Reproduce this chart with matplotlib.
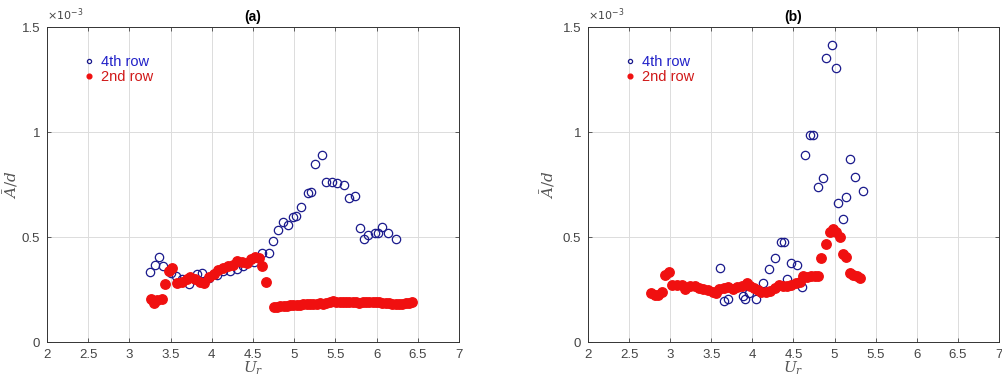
import numpy as np
import matplotlib
matplotlib.use("Agg")
import matplotlib.pyplot as plt

plt.rcParams['font.family'] = ['Liberation Sans', 'DejaVu Sans']
plt.rcParams['mathtext.fontset'] = 'dejavuserif'

# values in units of 1e-3
a_4th_x = [3.25, 3.31, 3.36, 3.41, 3.50, 3.56, 3.64, 3.72, 3.82, 3.88, 3.96, 4.06, 4.14, 4.22,
           4.30, 4.38, 4.51, 4.61, 4.69, 4.74, 4.80, 4.86, 4.92, 4.99, 5.02, 5.08, 5.17, 5.20,
           5.25, 5.34, 5.39, 5.46, 5.52, 5.60, 5.66, 5.74, 5.80, 5.85, 5.89, 5.98, 6.02, 6.07,
           6.14, 6.23]
a_4th_y = [0.331, 0.367, 0.404, 0.363, 0.328, 0.312, 0.299, 0.277, 0.325, 0.328, 0.304, 0.320,
           0.336, 0.336, 0.347, 0.360, 0.383, 0.423, 0.426, 0.483, 0.534, 0.573, 0.558, 0.594,
           0.600, 0.641, 0.711, 0.713, 0.847, 0.889, 0.763, 0.763, 0.756, 0.748, 0.684, 0.695,
           0.542, 0.489, 0.510, 0.518, 0.521, 0.550, 0.518, 0.489]

a_2nd_x = [3.26, 3.30, 3.34, 3.39, 3.43, 3.48, 3.52, 3.58, 3.64, 3.70, 3.74, 3.80, 3.86, 3.91,
           3.96, 4.02, 4.08, 4.14, 4.20, 4.26, 4.31, 4.36, 4.43, 4.47, 4.52, 4.57, 4.61, 4.66,
           4.75, 4.79, 4.83, 4.87, 4.91, 4.95, 4.99, 5.03, 5.07, 5.11, 5.15, 5.19, 5.23, 5.27,
           5.31, 5.35, 5.39, 5.43, 5.47, 5.51, 5.55, 5.59, 5.63, 5.67, 5.71, 5.75, 5.79, 5.83,
           5.87, 5.91, 5.95, 5.99, 6.03, 6.07, 6.11, 6.15, 6.19, 6.23, 6.27, 6.31, 6.35, 6.39,
           6.43]
a_2nd_y = [0.204, 0.185, 0.201, 0.204, 0.277, 0.336, 0.352, 0.280, 0.288, 0.299, 0.309, 0.299,
           0.284, 0.280, 0.309, 0.325, 0.344, 0.352, 0.360, 0.367, 0.388, 0.383, 0.375, 0.394,
           0.404, 0.399, 0.363, 0.288,
           0.165, 0.167, 0.170, 0.171, 0.172, 0.175, 0.177, 0.176, 0.178, 0.180, 0.179, 0.182,
           0.181, 0.183, 0.184, 0.183, 0.186, 0.190, 0.193, 0.191, 0.190, 0.192, 0.190, 0.189,
           0.191, 0.190, 0.188, 0.190, 0.192, 0.191, 0.189, 0.192, 0.190, 0.188, 0.186, 0.185,
           0.182, 0.180, 0.181, 0.183, 0.186, 0.187, 0.190]

b_4th_x = [3.61, 3.66, 3.70, 3.88, 3.91, 3.96, 4.05, 4.13, 4.20, 4.27, 4.35, 4.39, 4.42, 4.47,
           4.54, 4.60, 4.64, 4.70, 4.74, 4.80, 4.86, 4.89, 4.97, 5.02, 5.04, 5.10, 5.14, 5.19,
           5.25, 5.34]
b_4th_y = [0.352, 0.193, 0.206, 0.217, 0.204, 0.233, 0.204, 0.280, 0.347, 0.399, 0.474, 0.478,
           0.299, 0.375, 0.367, 0.261, 0.890, 0.985, 0.985, 0.740, 0.779, 1.354, 1.413, 1.307,
           0.664, 0.585, 0.692, 0.871, 0.787, 0.719]

b_2nd_x = [2.77, 2.81, 2.85, 2.90, 2.94, 2.98, 3.02, 3.08, 3.14, 3.18, 3.24, 3.30, 3.35, 3.40,
           3.46, 3.52, 3.56, 3.60, 3.65, 3.70, 3.77, 3.81, 3.87, 3.93, 3.97, 4.02, 4.07, 4.11,
           4.17, 4.22, 4.27, 4.33, 4.37, 4.42, 4.47, 4.53, 4.58, 4.62, 4.66, 4.71, 4.76, 4.80,
           4.84, 4.89, 4.94, 4.98, 5.02, 5.06, 5.10, 5.14, 5.19, 5.23, 5.27, 5.31]
b_2nd_y = [0.233, 0.225, 0.225, 0.236, 0.320, 0.331, 0.272, 0.272, 0.272, 0.252, 0.265, 0.268,
           0.257, 0.252, 0.246, 0.236, 0.233, 0.252, 0.257, 0.261, 0.252, 0.261, 0.265, 0.280,
           0.265, 0.257, 0.246, 0.236, 0.236, 0.241, 0.257, 0.272, 0.265, 0.268, 0.272, 0.280,
           0.288, 0.312, 0.309, 0.315, 0.315, 0.315, 0.402, 0.467, 0.526, 0.537, 0.526, 0.499,
           0.420, 0.407, 0.328, 0.320, 0.312, 0.304]

blue = '#1a1a8c'
red = '#f01010'
tickgray = '#444444'

fig = plt.figure(figsize=(10.03, 3.82), dpi=100)
ax1 = fig.add_axes([0.0469, 0.1047, 0.4108, 0.8246])
ax2 = fig.add_axes([0.5862, 0.1047, 0.4098, 0.8246])


def style(ax, title, x4, y4, x2, y2, ypad):
    ax.plot(x4, y4, 'o', mfc='none', mec=blue, mew=0.9, ms=6, label='4th row')
    ax.plot(x2, y2, 'o', mfc=red, mec=red, ms=6.8, label='2nd row')
    ax.set_xlim(2, 7)
    ax.set_ylim(0, 1.5)
    ax.set_xticks(np.arange(2, 7.01, 0.5))
    ax.set_xticklabels(['2', '2.5', '3', '3.5', '4', '4.5', '5', '5.5', '6', '6.5', '7'])
    ax.set_yticks([0, 0.5, 1, 1.5])
    ax.set_yticklabels(['0', '0.5', '1', '1.5'])
    ax.grid(True, color='#dcdcdc', lw=0.7)
    ax.set_axisbelow(True)
    ax.tick_params(direction='in', length=3, labelsize=9.5, colors=tickgray, width=0.6,
                   top=True, right=True, labeltop=False, labelright=False, pad=5)
    for s in ax.spines.values():
        s.set_color('#333333')
        s.set_linewidth(0.7)
    ax.set_title(title, fontsize=10, fontweight='bold', pad=4)
    ax.set_xlabel('$U_r$', fontsize=11, color='#555555', labelpad=-1)
    ax.set_ylabel(r'$\bar{A}/d$', fontsize=11, color='#555555', labelpad=ypad)
    ax.text(0.0, 1.012, r'$\times10^{-3}$', transform=ax.transAxes, fontsize=8,
            color=tickgray, ha='left', va='bottom', family='DejaVu Sans',
            math_fontfamily='dejavusans')
    leg = ax.legend(loc='upper left', bbox_to_anchor=(0.07, 0.93), frameon=False,
                    fontsize=10.5, handletextpad=0.3, labelspacing=0.1, markerscale=0.5,
                    handlelength=1.0, borderaxespad=0)
    for t, c in zip(leg.get_texts(), ['#2020c8', '#d01818']):
        t.set_color(c)


style(ax1, '(a)', a_4th_x, a_4th_y, a_2nd_x, a_2nd_y, 1)
style(ax2, '(b)', b_4th_x, b_4th_y, b_2nd_x, b_2nd_y, 4)

fig.savefig('out.png', dpi=100)
